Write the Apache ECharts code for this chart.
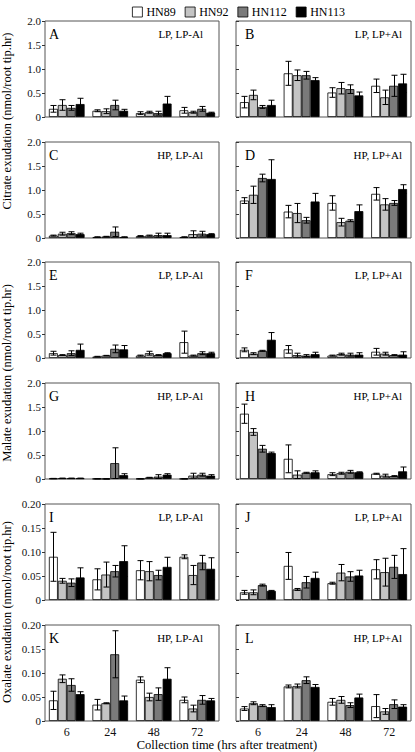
<!DOCTYPE html>
<html>
<head>
<meta charset="utf-8">
<script src="https://cdn.jsdelivr.net/npm/echarts@6/dist/echarts.min.js"></script>
<style>
html,body{margin:0;padding:0;background:#fff;}
#chart{width:415px;height:752px;}
</style>
</head>
<body>
<div id="chart"></div>
<script>
// ---- data ----
const categories = ['6', '24', '48', '72'];
const cultivars = ['HN89', 'HN92', 'HN112', 'HN113'];
const panelLetters = ['A','B','C','D','E','F','G','H','I','J','K','L'];
const panelConditions = ['LP, LP-Al','LP, LP+Al','HP, LP-Al','HP, LP+Al','LP, LP-Al','LP, LP+Al','HP, LP-Al','HP, LP+Al','LP, LP-Al','LP, LP+Al','HP, LP-Al','HP, LP+Al'];
const yTitles = ['Citrate exudation (nmol/root tip.hr)', 'Malate exudation (nmol/root tip.hr)', 'Oxalate exudation (nmol/root tip.hr)'];
const xTitle = 'Collection time (hrs after treatment)';

// each array: rows = HN89, HN92, HN112, HN113 ; columns = 6, 24, 48, 72 h
const A_mean = [[0.17,0.13,0.08,0.14],[0.25,0.12,0.10,0.10],[0.19,0.25,0.08,0.17],[0.27,0.13,0.28,0.09]];
const A_err  = [[0.07,0.02,0.03,0.06],[0.11,0.05,0.02,0.02],[0.05,0.10,0.04,0.05],[0.12,0.03,0.15,0.01]];
const B_mean = [[0.31,0.91,0.51,0.65],[0.46,0.87,0.60,0.41],[0.21,0.87,0.58,0.65],[0.25,0.77,0.45,0.70]];
const B_err  = [[0.12,0.25,0.10,0.14],[0.10,0.11,0.12,0.15],[0.03,0.08,0.09,0.22],[0.10,0.05,0.07,0.19]];
const C_mean = [[0.05,0.02,0.04,0.02],[0.09,0.03,0.05,0.08],[0.10,0.13,0.06,0.09],[0.08,0.02,0.06,0.08]];
const C_err  = [[0.01,0.005,0.01,0.005],[0.03,0.005,0.01,0.07],[0.03,0.10,0.04,0.05],[0.02,0.005,0.04,0.01]];
const D_mean = [[0.78,0.55,0.73,0.92],[0.90,0.52,0.33,0.70],[1.25,0.37,0.36,0.73],[1.23,0.76,0.56,1.02]];
const D_err  = [[0.06,0.13,0.15,0.13],[0.18,0.20,0.08,0.12],[0.08,0.06,0.02,0.05],[0.40,0.17,0.13,0.09]];
const E_mean = [[0.10,0.03,0.05,0.33],[0.06,0.05,0.10,0.05],[0.10,0.19,0.06,0.10],[0.17,0.18,0.10,0.10]];
const E_err  = [[0.04,0.005,0.01,0.23],[0.01,0.005,0.04,0.01],[0.05,0.08,0.01,0.03],[0.12,0.08,0.01,0.02]];
const F_mean = [[0.17,0.18,0.05,0.13],[0.09,0.06,0.08,0.09],[0.15,0.05,0.07,0.06],[0.38,0.08,0.07,0.07]];
const F_err  = [[0.04,0.08,0.01,0.07],[0.02,0.04,0.02,0.03],[0.01,0.02,0.03,0.01],[0.15,0.04,0.04,0.06]];
const G_mean = [[0.01,0.005,0.005,0.005],[0.015,0.003,0.03,0.07],[0.015,0.33,0.05,0.09],[0.015,0.08,0.09,0.07]];
const G_err  = [[0.003,0.002,0.002,0.002],[0.003,0.002,0.005,0.05],[0.003,0.32,0.04,0.03],[0.003,0.03,0.02,0.02]];
const H_mean = [[1.36,0.42,0.10,0.11],[0.98,0.09,0.12,0.07],[0.63,0.13,0.15,0.06],[0.54,0.14,0.14,0.16]];
const H_err  = [[0.20,0.29,0.03,0.01],[0.07,0.08,0.02,0.03],[0.07,0.01,0.03,0.01],[0.02,0.03,0.01,0.09]];
const I_mean = [[0.090,0.043,0.062,0.090],[0.040,0.053,0.060,0.052],[0.036,0.060,0.052,0.078],[0.047,0.081,0.069,0.065]];
const I_err  = [[0.051,0.022,0.020,0.004],[0.005,0.026,0.020,0.020],[0.008,0.012,0.010,0.015],[0.020,0.032,0.020,0.023]];
const J_mean = [[0.016,0.071,0.035,0.064],[0.016,0.022,0.057,0.058],[0.031,0.037,0.049,0.069],[0.019,0.046,0.051,0.054]];
const J_err  = [[0.004,0.028,0.002,0.020],[0.005,0.002,0.017,0.029],[0.002,0.012,0.010,0.024],[0.001,0.012,0.011,0.053]];
const K_mean = [[0.043,0.034,0.086,0.044],[0.088,0.037,0.050,0.026],[0.075,0.139,0.056,0.044],[0.056,0.043,0.088,0.043]];
const K_err  = [[0.019,0.011,0.006,0.006],[0.008,0.001,0.008,0.007],[0.013,0.049,0.013,0.009],[0.005,0.009,0.023,0.004]];
const L_mean = [[0.026,0.072,0.040,0.031],[0.037,0.073,0.044,0.020],[0.032,0.085,0.033,0.035],[0.029,0.071,0.049,0.030]];
const L_err  = [[0.004,0.003,0.007,0.024],[0.003,0.004,0.007,0.006],[0.002,0.007,0.005,0.009],[0.005,0.005,0.007,0.004]];

const citrateTicks = ['0','0.5','1.0','1.5','2.0'];
const oxalateTicks = ['0','0.05','0.10','0.15','0.20'];

// ---- layout / style ----
const panelMeans = [A_mean,B_mean,C_mean,D_mean,E_mean,F_mean,G_mean,H_mean,I_mean,J_mean,K_mean,L_mean];
const panelErrs  = [A_err,B_err,C_err,D_err,E_err,F_err,G_err,H_err,I_err,J_err,K_err,L_err];
const colors = ['#ffffff', '#c4c4c4', '#7a7a7a', '#000000'];
const rowTops = [21, 142, 262, 383, 504, 625];
const rowH = 96;
const colLeft = [45, 236];
const colW = [174, 175];
const catGap = 0.18;
const FONT = '"Liberation Serif", "Times New Roman", serif';

const grids = [], xAxes = [], yAxes = [], series = [], graphics = [];

for (let p = 0; p < 12; p++) {
  const row = Math.floor(p / 2), col = p % 2;
  const oxal = row >= 4;
  const ticks = oxal ? oxalateTicks : citrateTicks;
  const ymax = oxal ? 0.2 : 2.0;
  const yint = oxal ? 0.05 : 0.5;
  grids.push({left: colLeft[col], top: rowTops[row], width: colW[col], height: rowH,
    show: true, borderColor: '#555', borderWidth: 1, backgroundColor: 'transparent'});
  xAxes.push({type: 'category', gridIndex: p, data: categories,
    axisLine: {show: false}, axisTick: {show: false}, splitLine: {show: false},
    axisLabel: {show: row === 5, fontFamily: FONT, fontSize: 12, color: '#111', margin: 5}});
  yAxes.push({type: 'value', gridIndex: p, min: 0, max: ymax, interval: yint,
    axisLine: {show: false}, splitLine: {show: false},
    axisTick: {show: true, inside: col === 1, length: 3, lineStyle: {color: '#333', width: 1}},
    axisLabel: {show: col === 0, fontFamily: FONT, fontSize: 11, color: '#111', margin: 4,
      formatter: function (v) { const idx = Math.round(v / yint); return ticks[idx]; }}});
  for (let i = 0; i < 4; i++) {
    series.push({type: 'bar', name: cultivars[i], xAxisIndex: p, yAxisIndex: p,
      data: panelMeans[p][i], barGap: '0%', barCategoryGap: (catGap * 100) + '%',
      itemStyle: {color: colors[i], borderColor: '#000', borderWidth: 0.8},
      silent: true, animation: false});
  }
  for (let i = 0; i < 4; i++) {
    const d = panelMeans[p][i].map((m, j) => [j, m, panelErrs[p][i][j]]);
    series.push({type: 'custom', name: 'err' + p + '_' + i, xAxisIndex: p, yAxisIndex: p,
      data: d, z: 5, silent: true, animation: false, encode: {x: 0, y: 1},
      renderItem: (function (ci) { return function (params, api) {
        const x = api.value(0), m = api.value(1), e = api.value(2);
        const band = api.size([1, 0])[0];
        const bw = band * (1 - catGap) / 4;
        const off = (ci - 1.5) * bw;
        const t = api.coord([x, m + e]);
        const b = api.coord([x, Math.max(m - e, 0)]);
        const cx = Math.round(t[0] + off) + 0.5;
        const h = 3;
        const st = {stroke: '#000', lineWidth: 1};
        return {type: 'group', children: [
          {type: 'line', shape: {x1: cx, y1: t[1], x2: cx, y2: b[1]}, style: st},
          {type: 'line', shape: {x1: cx - h, y1: t[1], x2: cx + h, y2: t[1]}, style: st},
          {type: 'line', shape: {x1: cx - h, y1: b[1], x2: cx + h, y2: b[1]}, style: st}
        ]};
      }; })(i)});
  }
  // panel letter and condition
  graphics.push({type: 'text', x: colLeft[col] + (col === 0 ? 4 : 9), y: rowTops[row] + 13,
    style: {text: panelLetters[p], font: '14px ' + FONT, fill: '#000', textAlign: 'left', textVerticalAlign: 'middle'}});
  graphics.push({type: 'text', x: colLeft[col] + colW[col] - (col === 0 ? 16 : 9), y: rowTops[row] + 13,
    style: {text: panelConditions[p], font: '11px ' + FONT, fill: '#000', textAlign: 'right', textVerticalAlign: 'middle'}});
}

const yTitleCenters = [121, 373, 612];
for (let k = 0; k < 3; k++) {
  graphics.push({type: 'text', x: 7, y: yTitleCenters[k], rotation: Math.PI / 2,
    style: {text: yTitles[k], font: '12.5px ' + FONT, fill: '#000', textAlign: 'center', textVerticalAlign: 'middle'}});
}
graphics.push({type: 'text', x: 227, y: 745,
  style: {text: xTitle, font: '12.5px ' + FONT, fill: '#000', textAlign: 'center', textVerticalAlign: 'middle'}});

const chart = echarts.init(document.getElementById('chart'), null, {renderer: 'svg'});
chart.setOption({
  animation: false,
  backgroundColor: '#fff',
  legend: {data: cultivars, left: 127, top: 1, icon: 'rect', itemWidth: 10, itemHeight: 10, itemGap: 9,
    textStyle: {fontFamily: FONT, fontSize: 12, color: '#000', padding: [0, 0, 0, -1]},
    itemStyle: {borderColor: '#000', borderWidth: 0.8}, selectedMode: false},
  grid: grids,
  xAxis: xAxes,
  yAxis: yAxes,
  series: series,
  graphic: graphics
});
</script>
</body>
</html>
